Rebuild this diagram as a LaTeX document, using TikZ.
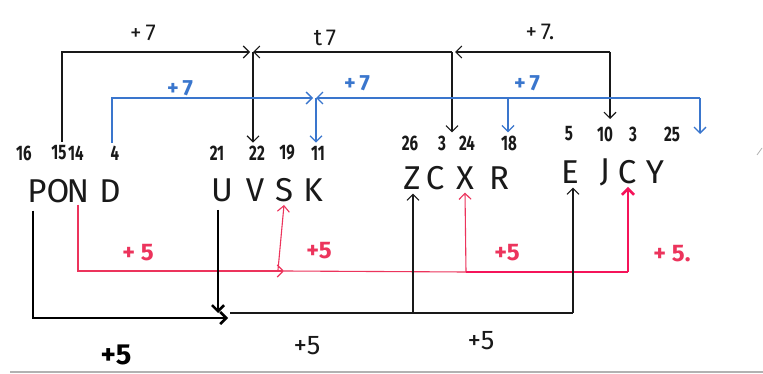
\documentclass[tikz,border=0pt]{standalone}
\usepackage{fontspec}
\setmainfont{Fira Sans}
\newfontfamily\numfont[FakeStretch=0.72]{Fira Sans}
\usetikzlibrary{arrows.meta}
\definecolor{myblue}{RGB}{58,118,205}
\definecolor{myred}{RGB}{236,52,92}
\definecolor{myredthick}{RGB}{245,20,90}
\definecolor{ink}{RGB}{25,25,25}
\begin{document}
\begin{tikzpicture}[x=1pt,y=-1pt,
  >={Straight Barb[length=6pt,width=12pt]},
  num/.style={font=\numfont\bfseries\fontsize{21}{21}\selectfont, inner sep=0pt, text=ink},
  lett/.style={font=\fontsize{33}{33}\selectfont, inner sep=0pt, text=ink},
  lbl/.style={font=\fontsize{23}{23}\selectfont, inner sep=0pt},
  bluelbl/.style={font=\bfseries\fontsize{22}{22}\selectfont, inner sep=0pt, text=myblue},
  redlbl/.style={font=\bfseries\fontsize{24}{24}\selectfont, inner sep=0pt, text=myred},
  blk/.style={draw=ink, line width=1.1pt},
  blkthick/.style={draw=black, line width=2.6pt},
  blu/.style={draw=myblue, line width=1.3pt},
  redthin/.style={draw=myred, line width=1.1pt},
  redthick/.style={draw=myredthick, line width=2.6pt}]
\useasboundingbox (0,0) rectangle (763,374);
\fill[white] (0,0) rectangle (763,374);

% numbers
\node[num] (n16) at (24,153) {16};
\node[num] (n15) at (59,153) {15};
\node[num] (n14) at (76,153) {14};
\node[num] (n4)  at (115,153) {4};
\node[num] (n21) at (217,153) {21};
\node[num] (n22) at (257,153) {22};
\node[num] (n19) at (287,153) {19};
\node[num] (n11) at (318,153) {11};
\node[num] (n26) at (410,143) {26};
\node[num] (n3a) at (442,143) {3};
\node[num] (n24) at (467,143) {24};
\node[num] (n18) at (509,143) {18};
\node[num] (n5)  at (569,134) {5};
\node[num] (n10) at (605,134) {10};
\node[num] (n3b) at (633,134) {3};
\node[num] (n25) at (672,134) {25};

% letters
\node[lett] (lP) at (37,191) {P};
\node[lett] (lO) at (58,191) {O};
\node[lett] (lN) at (78,191) {N};
\node[lett] (lD) at (110,191) {D};
\node[lett] (lU) at (222,190) {U};
\node[lett] (lV) at (255,190) {V};
\node[lett] (lS) at (284,190) {S};
\node[lett] (lK) at (313,190) {K};
\node[lett] (lZ) at (412,178) {Z};
\node[lett] (lC) at (435,178) {C};
\node[lett] (lX) at (465,178) {X};
\node[lett] (lR) at (499,178) {R};
\node[lett] (lE) at (570,172) {E};
\node[lett] (lJ) at (605,172) {J};
\node[lett] (lCb) at (627,172) {C};
\node[lett] (lY) at (655,172) {Y};

% labels
\node[lbl, text=ink] (t1) at (143,33) {+\,7};
\node[lbl, text=ink] (t2) at (325,38) {t\,7};
\node[lbl, text=ink] (t3) at (540,32) {+\,7.};
\node[bluelbl] (b1) at (180,88) {+\,7};
\node[bluelbl] (b2) at (357,83) {+\,7};
\node[bluelbl] (b3) at (527,83) {+\,7};
\node[redlbl] (r1) at (138,253) {+ 5};
\node[redlbl] (r2) at (319,251) {+5};
\node[redlbl] (r3) at (507,253) {+5};
\node[redlbl] (r4) at (672,254) {+ 5.};
\node[lbl, text=black, font=\bfseries\fontsize{29}{29}\selectfont] (k1) at (116,355) {+5};
\node[lbl, text=ink, font=\fontsize{27}{27}\selectfont] (k2) at (307,346) {+5};
\node[lbl, text=ink, font=\fontsize{27}{27}\selectfont] (k3) at (481,341) {+5};

% black top connectors
\coordinate (kA) at (250,52);
\coordinate (kB) at (253,52);
\coordinate (kC) at (452,52);
\coordinate (kC2) at (455,52);
\coordinate (kD) at (610,52);
\coordinate (kDe) at (610,119);
\draw[blk,->] ([xshift=3pt,yshift=4pt]n15.north) |- (kA);
\draw[blk,->] (kC) -- (kB);
\draw[blk,->] (kB) -- ([yshift=3pt]kB |- n22.north);
\draw[blk,->] (kD) -- (kC2);
\draw[blk,->] (kC) -- ([yshift=3pt]kC |- n3a.north);
\draw[blk,->] (kD) -- (kDe);

% blue connectors
\coordinate (bA) at (313,98);
\coordinate (bB) at (316,98);
\coordinate (bC) at (508,98);
\coordinate (bD) at (700,98);
\coordinate (bDe) at (700,134);
\draw[blu,->] ([xshift=-3pt,yshift=3pt]n4.north) |- (bA);
\draw[blu,->] (bC) -- (bB);
\draw[blu] (bC) -- (bD);
\draw[blu,->] (bD) -- (bDe);
\draw[blu,->] (bB) -- ([yshift=3pt]bB |- n11.north);
\draw[blu,->] (bC) -- ([yshift=3pt]bC |- n18.north);

% red connectors
\coordinate (rA) at (284,271);
\coordinate (rS) at (278,270);
\coordinate (rB) at (466,272);
\coordinate (rC) at (628,272);
\draw[redthin,->] ([yshift=-2pt]lN.south) |- (rA);
\draw[redthin] (rA) -- (rB);
\draw[redthin,->] (rS) -- ([yshift=-3pt]lS.south);
\draw[redthin,->] (rB) -- ([yshift=-3pt]lX.south);
\draw[redthick] (rB) -- (rC);
\draw[redthick,->] (rC) -- ([yshift=-3pt]lCb.south -| rC);

% black bottom connectors
\coordinate (kE) at (228,318);
\coordinate (kF) at (218,313);
\coordinate (kG) at (230,313);
\coordinate (kH) at (413,313);
\coordinate (kI) at (573,313);
\draw[blkthick,->] ([xshift=-4pt,yshift=-8pt]lP.south) |- (kE);
\draw[blkthick,->] ([yshift=-8pt]lU.south -| kF) -- (kF);
\draw[blk] (kG) -- (kI);
\draw[blk,->] (kH) -- ([yshift=-4pt]lZ.south -| kH);
\draw[blk,->] (kI) -- ([yshift=-4pt]lE.south -| kI);

% frame line and edge mark
\draw[gray!60, line width=1.3pt] (10,372) -- (763,372);
\draw[gray!60, line width=0.8pt] (757,155) -- (762,148);
\end{tikzpicture}
\end{document}
